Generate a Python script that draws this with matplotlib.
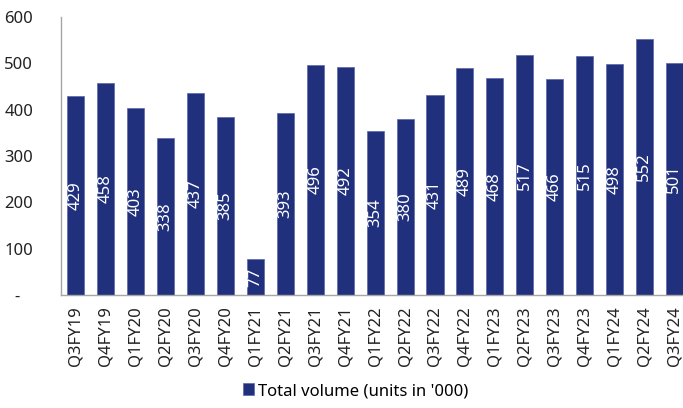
import matplotlib.pyplot as plt
import numpy as np

quarters = ['Q3FY19', 'Q4FY19', 'Q1FY20', 'Q2FY20', 'Q3FY20', 'Q4FY20', 'Q1FY21',
            'Q2FY21', 'Q3FY21', 'Q4FY21', 'Q1FY22', 'Q2FY22', 'Q3FY22', 'Q4FY22',
            'Q1FY23', 'Q2FY23', 'Q3FY23', 'Q4FY23', 'Q1FY24', 'Q2FY24', 'Q3FY24']
volume = [429, 458, 403, 338, 437, 385, 77, 393, 496, 492, 354, 380, 431, 489,
          468, 517, 466, 515, 498, 552, 501]
yticks = [0, 100, 200, 300, 400, 500, 600]
ytick_labels = ['-   ', '100', '200', '300', '400', '500', '600']

plt.rcParams['font.family'] = ['Noto Sans', 'DejaVu Sans']
bar_color = '#21307c'
fs = 12

fig = plt.figure(figsize=(6.83, 4.08), dpi=100)
ax = fig.add_axes([61/683, 1 - 295/408, 1 - 61/683, (295 - 17)/408])

x = np.arange(len(quarters))
bars = ax.bar(x, volume, width=0.57, color=bar_color, edgecolor='#5a66a8',
              linewidth=0.5, label="Total volume (units in '000)")

# value labels in the middle of each bar
for xi, v in zip(x, volume):
    ax.text(xi, v / 2, str(v), rotation=90, ha='center', va='center',
            color='white', fontsize=fs)

ax.set_xlim(-0.5, len(quarters) - 1 + 0.29)
ax.set_ylim(0, 600)
ax.set_xticks(x)
ax.set_xticklabels(quarters, rotation=90, fontsize=fs, color='#222222')
ax.set_yticks(yticks)
ax.set_yticklabels(ytick_labels, fontsize=fs, color='#222222')
ax.tick_params(axis='both', length=0)
ax.tick_params(axis='y', pad=20)
ax.tick_params(axis='x', pad=8)

for s in ['top', 'right']:
    ax.spines[s].set_visible(False)
for s in ['left', 'bottom']:
    ax.spines[s].set_color('#a6a6a6')
    ax.spines[s].set_linewidth(1)

fig.legend(loc='lower center', bbox_to_anchor=(0.52, -0.015), frameon=False,
           fontsize=fs, handlelength=0.7, handleheight=0.7, handletextpad=0.2)

fig.savefig('out.png', dpi=100)
